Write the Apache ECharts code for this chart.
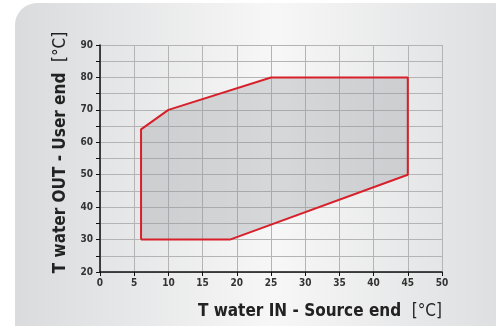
<!DOCTYPE html>
<html><head><meta charset="utf-8">
<script src="https://cdn.jsdelivr.net/npm/echarts@6/dist/echarts.min.js"></script>
<style>html,body{margin:0;padding:0;background:#fff}#c{width:496px;height:326px}</style>
</head><body><div id="c"></div>
<script>
const envelopeX = [6, 6, 10, 25, 45, 45, 19];
const envelopeY = [30, 64, 70, 80, 80, 50, 30];
const xTicks = [0, 5, 10, 15, 20, 25, 30, 35, 40, 45, 50];
const yTicks = [20, 30, 40, 50, 60, 70, 80, 90];
const xName = 'T water IN - Source end';
const yName = 'T water OUT - User end';
const unit = '[°C]';

const FONT = "'DejaVu Sans Condensed', 'Liberation Sans Narrow', sans-serif";
const points = envelopeX.map((x, i) => [x, envelopeY[i]]);
const closed = points.concat([points[0]]);

const chart = echarts.init(document.getElementById('c'), null, {renderer: 'canvas'});
chart.setOption({
  animation: false,
  textStyle: {fontFamily: FONT},
  graphic: [{
    type: 'rect', z: -10, silent: true,
    shape: {x: 15, y: 3, width: 520, height: 360, r: 22},
    style: {fill: new echarts.graphic.LinearGradient(0, 0, 1, 0, [
      {offset: 0, color: '#dadbdd'},
      {offset: 0.5, color: '#f7f7f7'},
      {offset: 1, color: '#dadbdd'}
    ])}
  }],
  grid: {left: 100, right: 54, top: 45, bottom: 54, containLabel: false},
  xAxis: {
    type: 'value', min: 0, max: 50, interval: 5,
    name: xName + '  {r|' + unit + '}',
    nameLocation: 'end', nameGap: 0,
    nameTextStyle: {
      align: 'right', verticalAlign: 'top', padding: [31, 0, 0, 0],
      fontSize: 17, fontWeight: 'bold', color: '#222', fontFamily: FONT,
      rich: {r: {fontSize: 17, fontWeight: 'normal', color: '#222', fontFamily: FONT}}
    },
    axisLine: {show: true, lineStyle: {color: '#111', width: 1.5}},
    axisTick: {show: true, length: 4, lineStyle: {color: '#111'}},
    axisLabel: {
      color: '#333', fontSize: 10, fontWeight: 'bold', margin: 6, fontFamily: FONT,
      formatter: v => xTicks.includes(v) ? String(v) : ''
    },
    splitLine: {show: true, lineStyle: {color: '#b4b4b4', width: 1}}
  },
  yAxis: {
    type: 'value', min: 20, max: 90, interval: 5,
    name: yName + '  {r|' + unit + '}',
    nameLocation: 'middle', nameGap: 31, nameRotate: 90,
    nameTextStyle: {
      fontSize: 17, fontWeight: 'bold', color: '#222', fontFamily: FONT,
      padding: [0, 0, 0, 12],
      rich: {r: {fontSize: 17, fontWeight: 'normal', color: '#222', fontFamily: FONT}}
    },
    axisLine: {show: true, lineStyle: {color: '#111', width: 1.5}},
    axisTick: {show: true, length: 4, lineStyle: {color: '#111'}},
    axisLabel: {
      color: '#333', fontSize: 10, fontWeight: 'bold', margin: 7, fontFamily: FONT,
      formatter: v => yTicks.includes(v) ? String(v) : ''
    },
    splitLine: {show: true, lineStyle: {color: '#b4b4b4', width: 1}}
  },
  series: [{
    type: 'custom',
    coordinateSystem: 'cartesian2d',
    data: [0],
    renderItem: function (params, api) {
      const pts = points.map(p => api.coord(p));
      return {
        type: 'polygon',
        shape: {points: pts},
        style: {fill: 'rgba(150,152,158,0.33)', stroke: null}
      };
    },
    z: 3, silent: true
  }, {
    type: 'line',
    data: closed,
    showSymbol: false,
    lineStyle: {color: '#d7202a', width: 2},
    z: 4, silent: true
  }]
});
</script></body></html>
